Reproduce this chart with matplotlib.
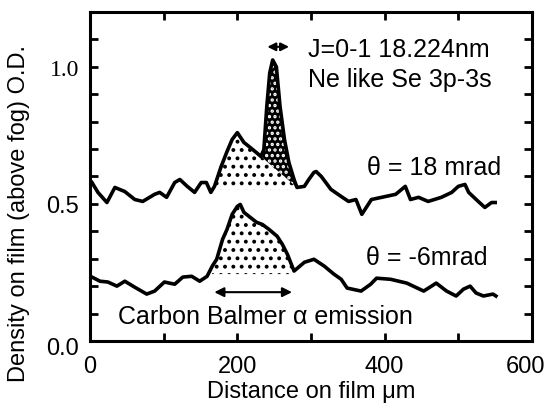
import matplotlib
matplotlib.use("Agg")
import matplotlib.pyplot as plt
import matplotlib.transforms as mtransforms
import numpy as np

plt.rcParams['font.family'] = ['Liberation Sans', 'DejaVu Sans']
plt.rcParams['hatch.linewidth'] = 1.6

# theta = 18 mrad trace
x_up = [2.7, 10.8, 23, 33.8, 47.3, 60.8, 71.6, 87.8, 94.6, 104, 115, 122, 132, 142,
        151, 158, 164, 169, 178, 186, 193, 200, 209, 216, 226, 232, 236, 240, 244,
        248, 253, 258, 264, 270, 277, 281, 291, 297, 304, 307, 314, 319, 327, 341,
        351, 361, 369, 376, 382, 396, 415, 428, 435, 446, 459, 477, 491, 500, 509,
        514, 527, 536, 545, 550]
y_up = [0.578, 0.542, 0.505, 0.560, 0.545, 0.516, 0.509, 0.535, 0.542, 0.524, 0.578,
        0.589, 0.564, 0.542, 0.578, 0.578, 0.542, 0.564, 0.636, 0.691, 0.735, 0.760,
        0.724, 0.709, 0.687, 0.673, 0.698, 0.855, 0.978, 1.025, 1.0, 0.855, 0.735,
        0.651, 0.589, 0.560, 0.564, 0.589, 0.615, 0.618, 0.600, 0.582, 0.553, 0.527,
        0.509, 0.516, 0.462, 0.491, 0.516, 0.524, 0.535, 0.564, 0.516, 0.524, 0.509,
        0.524, 0.542, 0.564, 0.571, 0.542, 0.509, 0.487, 0.505, 0.505]

# theta = -6 mrad trace
x_lo = [2.7, 13.5, 24.3, 36.5, 47.3, 60.8, 77, 87.8, 101, 115, 126, 138, 149, 159,
        166, 172, 180, 186, 193, 200, 204, 209, 226, 234, 243, 254, 261, 268, 277,
        291, 304, 318, 331, 341, 349, 368, 381, 389, 408, 430, 453, 470, 484, 497,
        507, 516, 524, 534, 547, 551]
y_lo = [0.233, 0.218, 0.215, 0.200, 0.218, 0.196, 0.171, 0.182, 0.215, 0.207, 0.233,
        0.236, 0.218, 0.236, 0.273, 0.298, 0.371, 0.407, 0.462, 0.491, 0.498, 0.469,
        0.433, 0.425, 0.407, 0.382, 0.353, 0.316, 0.255, 0.287, 0.298, 0.273, 0.244,
        0.225, 0.193, 0.182, 0.207, 0.229, 0.225, 0.211, 0.182, 0.211, 0.182, 0.164,
        0.189, 0.200, 0.175, 0.164, 0.171, 0.164]

# shaded regions (x range, base level)
balmer_up = (166, 281, 0.553)
balmer_lo = (166, 277, 0.244)
line_split = [(232, 0.673), (281, 0.560)]   # under-side of the 18.224 nm line

x_up = np.array(x_up); y_up = np.array(y_up)
x_lo = np.array(x_lo); y_lo = np.array(y_lo)

fig = plt.figure(figsize=(5.5, 4.14), dpi=100)
ax = fig.add_axes([0.1636, 0.174, 0.8037, 0.7946])

# lower stipple (Carbon Balmer alpha, theta=-6)
m = (x_lo >= balmer_lo[0]) & (x_lo <= balmer_lo[1])
ax.fill_between(x_lo[m], balmer_lo[2], y_lo[m], facecolor='white', edgecolor='black',
                hatch='..', linewidth=0, zorder=1)

# upper stipple: curve up to the split, then the sloping line
(xa, ya), (xb, yb) = line_split
xs = np.linspace(balmer_up[0], balmer_up[1], 300)
top = np.interp(xs, x_up, y_up)
slope = np.interp(xs, [xa, xb], [ya, yb])
top_light = np.where(xs <= xa, top, np.minimum(top, slope))
ax.fill_between(xs, balmer_up[2], np.maximum(top_light, balmer_up[2]), facecolor='white',
                edgecolor='black', hatch='..', linewidth=0, zorder=1)
md = (xs >= xa) & (xs <= xb)
ax.fill_between(xs[md], slope[md], top[md], facecolor='black', linewidth=0, zorder=1)
ax.fill_between(xs[md], slope[md], top[md], facecolor='none', edgecolor='white',
                hatch='...', linewidth=0, zorder=1)

ax.plot(x_up, y_up, color='black', linewidth=2.6, solid_joinstyle='round', zorder=3)
ax.plot(x_lo, y_lo, color='black', linewidth=2.6, solid_joinstyle='round', zorder=3)

# arrows
ax.annotate('', xy=(165, 0.178), xytext=(278, 0.178),
            arrowprops=dict(arrowstyle='<|-|>', color='black', lw=1.5, mutation_scale=14))
ax.annotate('', xy=(237, 1.073), xytext=(274, 1.073),
            arrowprops=dict(arrowstyle='<|-|>', color='black', lw=1.5, mutation_scale=12))

ax.text(296, 1.065, 'J=0-1 18.224nm', fontsize=18, va='center', ha='left')
ax.text(296, 0.955, 'Ne like Se 3p-3s', fontsize=18, va='center', ha='left')
ax.text(376, 0.633, 'θ = 18 mrad', fontsize=18, va='center', ha='left')
ax.text(375, 0.305, 'θ = -6mrad', fontsize=18, va='center', ha='left')
ax.text(38, 0.09, 'Carbon Balmer α emission', fontsize=18, va='center', ha='left')

ax.set_xlim(0, 600)
ax.set_ylim(0, 1.2)
ax.set_xticks([0, 200, 400, 600])
ax.set_xticks([100, 300, 500], minor=True)
ax.set_yticks([0.0, 0.5, 1.0])
ax.set_yticks(np.arange(0.1, 1.2, 0.1), minor=True)
ax.set_yticklabels(['0.0', '0.5', '1.0'])
ax.tick_params(which='both', direction='in', top=True, right=True, width=2,
               labelsize=17, length=6)
ax.tick_params(axis='x', pad=10)
ax.tick_params(axis='y', pad=8)
ax.get_yticklabels()[2].set_family('Liberation Serif')
# nudge edge labels the way the original sits them
xl = ax.get_xticklabels()
xl[3].set_transform(xl[3].get_transform() + mtransforms.ScaledTranslation(-0.07, 0, fig.dpi_scale_trans))
yl = ax.get_yticklabels()
yl[0].set_transform(yl[0].get_transform() + mtransforms.ScaledTranslation(0, -0.05, fig.dpi_scale_trans))
for s in ax.spines.values():
    s.set_linewidth(2.2)

ax.set_xlabel('Distance on film μm', fontsize=17, labelpad=2)
ax.set_ylabel('Density on film (above fog) O.D.', fontsize=17)
ax.yaxis.set_label_coords(-0.135, 0.39)

fig.savefig('out.png', dpi=100)
